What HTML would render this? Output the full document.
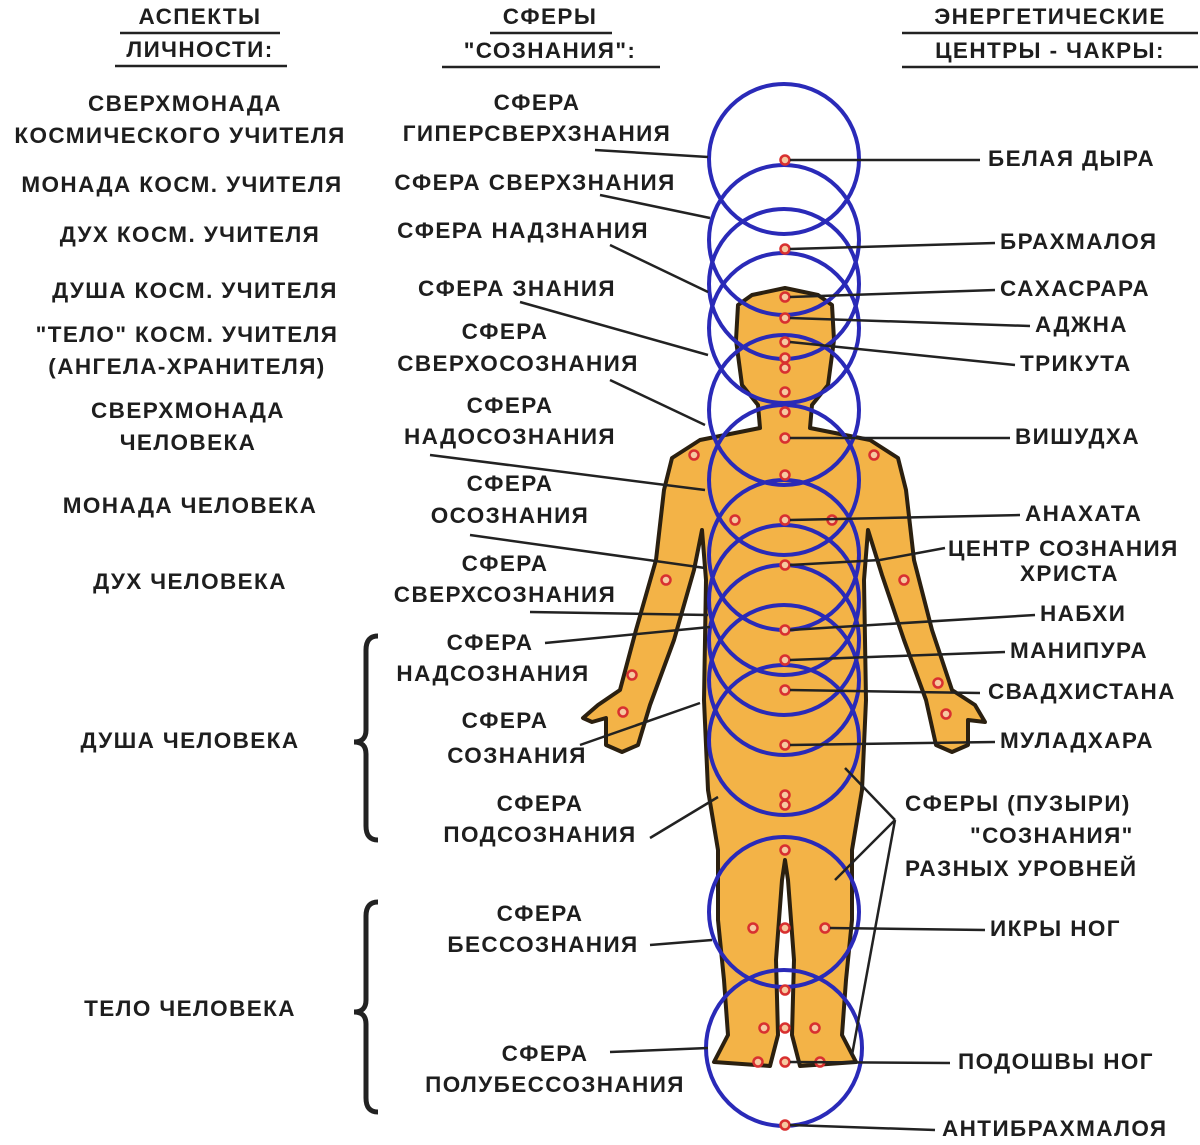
<!DOCTYPE html>
<html><head><meta charset="utf-8"><style>
html,body{margin:0;padding:0;background:#fff;}
svg{display:block;}
text{font-family:"Liberation Sans",sans-serif;font-weight:bold;font-size:22.5px;letter-spacing:1.4px;fill:#1e1e1e;dominant-baseline:middle;}
.m{text-anchor:middle;}
.ln{stroke:#222;stroke-width:2.5;fill:none;}
.c{stroke:#2a2ab8;stroke-width:4;fill:none;}
.d{stroke:#d83030;stroke-width:2.5;fill:#f6c9a0;}
</style></head><body>
<svg width="1200" height="1145" viewBox="0 0 1200 1145" xmlns="http://www.w3.org/2000/svg">
<path d="M785,288 L752,295 L738,305 L736,340 L742,385 L758,405 L760,428 L700,440 L672,458 L664,490 L656,560 L636,630 L620,690 L598,705 L583,718 L592,722 L606,718 L606,745 L622,752 L638,745 L650,705 L674,640 L694,570 L702,530 L706,580 L704,700 L708,790 L718,850 L718,920 L724,980 L728,1035 L714,1062 L770,1066 L778,1035 L776,960 L782,880 L785,860 L788,880 L794,960 L792,1035 L800,1066 L856,1062 L842,1035 L846,980 L852,920 L852,850 L862,790 L866,700 L864,580 L868,530 L882,575 L904,640 L926,700 L936,745 L952,752 L968,745 L968,720 L985,722 L975,705 L952,690 L932,630 L914,560 L906,490 L898,458 L870,440 L810,428 L812,405 L828,385 L834,340 L832,305 L818,295 Z" fill="#f3b347" stroke="#2b2010" stroke-width="4" stroke-linejoin="round"/>
<circle class="c" cx="784" cy="159" r="75"/>
<circle class="c" cx="784" cy="240" r="75"/>
<circle class="c" cx="784" cy="284" r="75"/>
<circle class="c" cx="784" cy="328" r="75"/>
<circle class="c" cx="784" cy="410" r="75"/>
<circle class="c" cx="784" cy="480" r="75"/>
<circle class="c" cx="784" cy="555" r="75"/>
<circle class="c" cx="784" cy="600" r="75"/>
<circle class="c" cx="784" cy="640" r="75"/>
<circle class="c" cx="784" cy="680" r="75"/>
<circle class="c" cx="784" cy="740" r="75"/>
<circle class="c" cx="784" cy="912" r="75"/>
<circle class="c" cx="784" cy="1048" r="78"/>
<g>
<circle class="d" cx="785" cy="160" r="4.5"/><circle class="d" cx="785" cy="249" r="4.5"/>
<circle class="d" cx="785" cy="297" r="4.5"/><circle class="d" cx="785" cy="318" r="4.5"/>
<circle class="d" cx="785" cy="342" r="4.5"/><circle class="d" cx="785" cy="358" r="4.5"/>
<circle class="d" cx="785" cy="368" r="4.5"/><circle class="d" cx="785" cy="392" r="4.5"/>
<circle class="d" cx="785" cy="412" r="4.5"/><circle class="d" cx="785" cy="438" r="4.5"/>
<circle class="d" cx="785" cy="475" r="4.5"/><circle class="d" cx="785" cy="520" r="4.5"/>
<circle class="d" cx="785" cy="565" r="4.5"/><circle class="d" cx="785" cy="630" r="4.5"/>
<circle class="d" cx="785" cy="660" r="4.5"/><circle class="d" cx="785" cy="690" r="4.5"/>
<circle class="d" cx="785" cy="745" r="4.5"/><circle class="d" cx="785" cy="795" r="4.5"/>
<circle class="d" cx="785" cy="805" r="4.5"/><circle class="d" cx="785" cy="850" r="4.5"/>
<circle class="d" cx="785" cy="928" r="4.5"/><circle class="d" cx="753" cy="928" r="4.5"/>
<circle class="d" cx="825" cy="928" r="4.5"/><circle class="d" cx="785" cy="990" r="4.5"/>
<circle class="d" cx="785" cy="1028" r="4.5"/><circle class="d" cx="764" cy="1028" r="4.5"/>
<circle class="d" cx="815" cy="1028" r="4.5"/><circle class="d" cx="785" cy="1062" r="4.5"/>
<circle class="d" cx="758" cy="1062" r="4.5"/><circle class="d" cx="820" cy="1062" r="4.5"/>
<circle class="d" cx="785" cy="1125" r="4.5"/>
<circle class="d" cx="694" cy="455" r="4.5"/><circle class="d" cx="874" cy="455" r="4.5"/>
<circle class="d" cx="735" cy="520" r="4.5"/><circle class="d" cx="832" cy="520" r="4.5"/>
<circle class="d" cx="666" cy="580" r="4.5"/><circle class="d" cx="904" cy="580" r="4.5"/>
<circle class="d" cx="632" cy="675" r="4.5"/><circle class="d" cx="938" cy="683" r="4.5"/>
<circle class="d" cx="623" cy="712" r="4.5"/><circle class="d" cx="946" cy="714" r="4.5"/>
</g>
<g class="ln">
<path d="M790,160 L980,160"/><path d="M790,249 L995,243"/><path d="M790,297 L995,290"/>
<path d="M790,318 L1030,326"/><path d="M790,342 L1015,365"/><path d="M790,438 L1010,438"/>
<path d="M790,520 L1020,515"/><path d="M790,565 L880,560 L945,548"/><path d="M790,630 L1035,615"/>
<path d="M790,660 L1005,652"/><path d="M790,690 L980,693"/><path d="M790,745 L995,742"/>
<path d="M830,928 L985,930"/><path d="M790,1062 L950,1063"/><path d="M790,1125 L935,1130"/>
<path d="M895,820 L845,768"/><path d="M895,820 L835,880"/><path d="M895,820 L852,1055"/>
</g>
<g class="ln">
<path d="M595,150 L708,157"/><path d="M600,195 L710,218"/><path d="M610,245 L708,292"/>
<path d="M520,302 L708,355"/><path d="M610,380 L705,425"/><path d="M430,455 L705,490"/>
<path d="M470,535 L705,568"/><path d="M530,612 L708,615"/><path d="M545,643 L710,627"/>
<path d="M580,745 L700,703"/><path d="M650,838 L718,797"/><path d="M650,945 L712,940"/>
<path d="M610,1052 L708,1048"/>
</g>
<path d="M378,636 Q366,636 366,650 L366,730 Q366,742 354,742 Q366,742 366,754 L366,826 Q366,840 378,840" fill="none" stroke="#222" stroke-width="5"/>
<path d="M378,902 Q366,902 366,916 L366,1000 Q366,1012 354,1012 Q366,1012 366,1024 L366,1098 Q366,1112 378,1112" fill="none" stroke="#222" stroke-width="5"/>
<text class="m" x="200" y="18">АСПЕКТЫ</text>
<text class="m" x="200" y="51">ЛИЧНОСТИ:</text>
<path class="ln" d="M120,33 L280,33 M115,66 L287,66"/>
<text class="m" x="550" y="18">СФЕРЫ</text>
<text class="m" x="550" y="52">"СОЗНАНИЯ":</text>
<path class="ln" d="M490,33 L612,33 M442,67 L660,67"/>
<text class="m" x="1050" y="18">ЭНЕРГЕТИЧЕСКИЕ</text>
<text class="m" x="1050" y="52">ЦЕНТРЫ - ЧАКРЫ:</text>
<path class="ln" d="M902,33 L1198,33 M902,67 L1198,67"/>
<text class="m" x="185" y="105">СВЕРХМОНАДА</text>
<text class="m" x="180" y="137">КОСМИЧЕСКОГО УЧИТЕЛЯ</text>
<text class="m" x="182" y="186">МОНАДА КОСМ. УЧИТЕЛЯ</text>
<text class="m" x="190" y="236">ДУХ КОСМ. УЧИТЕЛЯ</text>
<text class="m" x="195" y="292">ДУША КОСМ. УЧИТЕЛЯ</text>
<text class="m" x="187" y="336">"ТЕЛО" КОСМ. УЧИТЕЛЯ</text>
<text class="m" x="187" y="368">(АНГЕЛА-ХРАНИТЕЛЯ)</text>
<text class="m" x="188" y="412">СВЕРХМОНАДА</text>
<text class="m" x="188" y="444">ЧЕЛОВЕКА</text>
<text class="m" x="190" y="507">МОНАДА ЧЕЛОВЕКА</text>
<text class="m" x="190" y="583">ДУХ ЧЕЛОВЕКА</text>
<text class="m" x="190" y="742">ДУША ЧЕЛОВЕКА</text>
<text class="m" x="190" y="1010">ТЕЛО ЧЕЛОВЕКА</text>
<text class="m" x="537" y="104">СФЕРА</text>
<text class="m" x="537" y="135">ГИПЕРСВЕРХЗНАНИЯ</text>
<text class="m" x="535" y="184">СФЕРА СВЕРХЗНАНИЯ</text>
<text class="m" x="523" y="232">СФЕРА НАДЗНАНИЯ</text>
<text class="m" x="517" y="290">СФЕРА ЗНАНИЯ</text>
<text class="m" x="505" y="333">СФЕРА</text>
<text class="m" x="518" y="365">СВЕРХОСОЗНАНИЯ</text>
<text class="m" x="510" y="407">СФЕРА</text>
<text class="m" x="510" y="438">НАДОСОЗНАНИЯ</text>
<text class="m" x="510" y="485">СФЕРА</text>
<text class="m" x="510" y="517">ОСОЗНАНИЯ</text>
<text class="m" x="505" y="565">СФЕРА</text>
<text class="m" x="505" y="596">СВЕРХСОЗНАНИЯ</text>
<text class="m" x="490" y="644">СФЕРА</text>
<text class="m" x="493" y="675">НАДСОЗНАНИЯ</text>
<text class="m" x="505" y="722">СФЕРА</text>
<text class="m" x="517" y="757">СОЗНАНИЯ</text>
<text class="m" x="540" y="805">СФЕРА</text>
<text class="m" x="540" y="836">ПОДСОЗНАНИЯ</text>
<text class="m" x="540" y="915">СФЕРА</text>
<text class="m" x="543" y="946">БЕССОЗНАНИЯ</text>
<text class="m" x="545" y="1055">СФЕРА</text>
<text class="m" x="555" y="1086">ПОЛУБЕССОЗНАНИЯ</text>
<text x="988" y="160">БЕЛАЯ ДЫРА</text>
<text x="1000" y="243">БРАХМАЛОЯ</text>
<text x="1000" y="290">САХАСРАРА</text>
<text x="1035" y="326">АДЖНА</text>
<text x="1020" y="365">ТРИКУТА</text>
<text x="1015" y="438">ВИШУДХА</text>
<text x="1025" y="515">АНАХАТА</text>
<text x="948" y="550">ЦЕНТР СОЗНАНИЯ</text>
<text x="1020" y="575">ХРИСТА</text>
<text x="1040" y="615">НАБХИ</text>
<text x="1010" y="652">МАНИПУРА</text>
<text x="988" y="693">СВАДХИСТАНА</text>
<text x="1000" y="742">МУЛАДХАРА</text>
<text x="905" y="805">СФЕРЫ (ПУЗЫРИ)</text>
<text x="970" y="837">"СОЗНАНИЯ"</text>
<text x="905" y="870">РАЗНЫХ УРОВНЕЙ</text>
<text x="990" y="930">ИКРЫ НОГ</text>
<text x="958" y="1063">ПОДОШВЫ НОГ</text>
<text x="942" y="1130">АНТИБРАХМАЛОЯ</text>
</svg>
</body></html>
